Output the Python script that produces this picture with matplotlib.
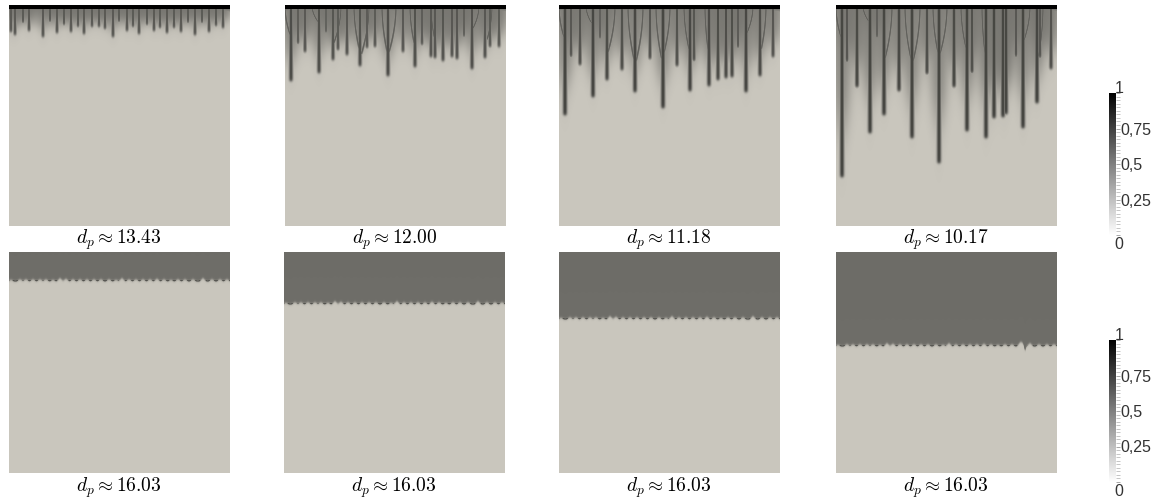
import numpy as np
import matplotlib
matplotlib.use('Agg')
import matplotlib.pyplot as plt
from matplotlib.colors import LinearSegmentedColormap
from matplotlib.transforms import ScaledTranslation

# finger positions and depths, in cells from the top left of each panel
x_a = [2,6,14,20,34,41,48,55,62,69,75,83,90,96,104,110,118,124,130,138,145,151,158,165,172,179,186,193,200,207,214]
d_a = [27,30,18,26,32,17,28,20,27,22,29,22,22,24,32,17,26,22,29,20,26,23,28,23,27,18,30,18,27,21,23]
x_b = [6,13,20,34,41,48,53,62,75,82,90,103,118,130,137,146,150,158,167,172,179,187,200,205,214]
d_b = [76,39,47,68,28,55,45,50,61,43,42,71,47,62,40,52,53,56,52,54,32,64,53,42,42]
x_c = [6,12,21,34,41,48,63,76,91,104,118,131,135,150,159,167,173,179,187,201,214]
d_c = [110,52,60,92,34,75,65,87,54,103,61,86,56,81,75,73,72,43,87,71,52]
x_d = [6,11,21,34,41,48,63,76,91,103,118,131,136,150,158,167,170,180,187,201,204,215]
d_d = [172,57,82,128,33,110,86,133,69,158,82,126,68,133,113,112,109,52,123,98,53,64]

# side branches: top position, position where it joins, depth where it joins
branch_top = [0,27,56,69,84,97,111,125,146,194,207]
branch_join = [6,34,48,76,76,103,103,131,150,187,202]
branch_b = [32,18,40,50,50,50,50,45,35,25,35]
branch_c = [35,20,50,58,60,55,55,48,50,30,45]
branch_d = [35,18,57,58,60,52,52,47,55,38,53]

# bottom row: depth of the front and crests along it
front = [28,51,66,93]
crests = [2,11,17,24,31,37,44,51,57,64,71,78,85,92,100,107,113,120,127,134,141,148,155,162,169,176,184,194,203,211,218]
crest_h = [1.5,2,2,2,2,2,1.5,3,2.5,2,2,2,2,2,2,1.5,3,2,2,2,2,2.5,2,1.5,2,2,2,3,2,2,2]

caption_top = ['13.43','12.00','11.18','10.17']
caption_bottom = ['16.03','16.03','16.03','16.03']
ticks = [0,0.25,0.5,0.75,1]
tick_text = ['0','0,25','0,5','0,75','1']

left_top = [9,285,559,836]
left_bottom = [9,284,559,836]
W, H = 1161, 499
N = 221

cmap = LinearSegmentedColormap.from_list('rock', [(0,'#c9c6bd'),(0.5,'#6e6d68'),(0.8,'#40403c'),(1,'#000000')], N=256)

xx, yy = np.meshgrid(np.arange(N)+0.5, np.arange(N)+0.5)

def fade(y, d, w):
    return 1/(1+np.exp((y-d)/w))

def top_field(xs, ds, br_depth=None):
    """builds the fingers field from the read positions and depths"""
    clear = np.ones((N,N))
    for x, d in zip(xs, ds):
        sig = 14-9*np.clip(yy/d, 0, 1)
        clear = clear*(1-0.72*np.exp(-((xx-x)/sig)**2)*fade(yy, d*0.72, 2+d*0.08))
    v = 0.46*(1-clear)
    v = np.maximum(v, 0.52*fade(yy, 7, 1.5))
    for x, d in zip(xs, ds):
        amp = 0.55+0.24*min(d/90,1) if br_depth is not None else 0.68
        sig = 1.5+0.7*min(d/100,1)
        core = amp*np.exp(-((xx-x)/sig)**2)*fade(yy, d, 0.9)
        v = np.maximum(v, core)
    if br_depth is not None:
        for xt, xj, dj in zip(branch_top, branch_join, br_depth):
            cx = xt+(xj-xt)*(np.clip(yy/dj,0,1))**2
            core = 0.58*np.exp(-((xx-cx)/1.4)**2)*fade(yy, dj, 0.6)
            v = np.maximum(v, core)
    v = np.maximum(v, np.where(yy < 4, 1.0, 0))
    return v

def bottom_field(depth, bump=False):
    """builds the flat front with its small crests"""
    line = np.full(N, float(depth))
    x = np.arange(N)+0.5
    for c, h in zip(crests, crest_h):
        line = line-h*np.exp(-((x-c)/2.4)**2)
    if bump:
        line = line-3*np.exp(-((x-186)/3)**2)+5*np.exp(-((x-189)/1.2)**2)
    v = 0.5*fade(yy, line[None,:].repeat(N,0)+1.5, 0.7)
    v = np.maximum(v, 0.68*np.exp(-((yy-line-1.0)/1.0)**2)*np.exp(-((line[None,:]-depth+0.4)/1.0)**2))
    return v

def show_panel(field, left, top):
    ax = fig.add_axes([left/W, 1-(top+N)/H, N/W, N/H])
    ax.imshow(field, cmap=cmap, vmin=0, vmax=1, interpolation='bilinear', aspect='auto')
    ax.axis('off')

def colorbar(top):
    ax = fig.add_axes([1109/W, 1-(top+142)/H, 7/W, 142/H])
    ax.imshow(np.linspace(1,0,256)[:,None], cmap='gray_r', vmin=0, vmax=1, aspect='auto', extent=[0,1,0,1])
    ax.set_xticks([])
    ax.yaxis.tick_right()
    ax.set_yticks(ticks)
    ax.set_yticklabels(tick_text, fontsize=11.5, family='Liberation Sans', color='#333333')
    ax.set_yticks(np.arange(0,1.001,0.025), minor=True)
    ax.tick_params(axis='y', which='major', length=3, width=0.6, color='#999999', pad=0.5)
    ax.tick_params(axis='y', which='minor', length=3, width=0.6, color='#bbbbbb')
    for s in ax.spines.values():
        s.set_visible(False)
    labels = ax.get_yticklabels()
    # end labels sit beyond the bar
    for lab, off in zip([labels[0], labels[-1]], [-8, 6]):
        lab.set_transform(lab.get_transform()+ScaledTranslation(-6/100, off/100, fig.dpi_scale_trans))

plt.rcParams['mathtext.fontset'] = 'cm'
fig = plt.figure(figsize=(W/100, H/100), dpi=100)

tops = [top_field(x_a, d_a), top_field(x_b, d_b, branch_b), top_field(x_c, d_c, branch_c), top_field(x_d, d_d, branch_d)]
for i in range(4):
    show_panel(tops[i], left_top[i], 5)
    show_panel(bottom_field(front[i], bump=(i==3)), left_bottom[i], 252)
    fig.text((left_top[i]+110)/W, 1-240/H, r'$d_p \approx '+caption_top[i]+'$', ha='center', va='center', fontsize=14)
    fig.text((left_bottom[i]+110)/W, 1-488/H, r'$d_p \approx '+caption_bottom[i]+'$', ha='center', va='center', fontsize=14)

colorbar(93)
colorbar(340)

fig.savefig('out.png', dpi=100)
